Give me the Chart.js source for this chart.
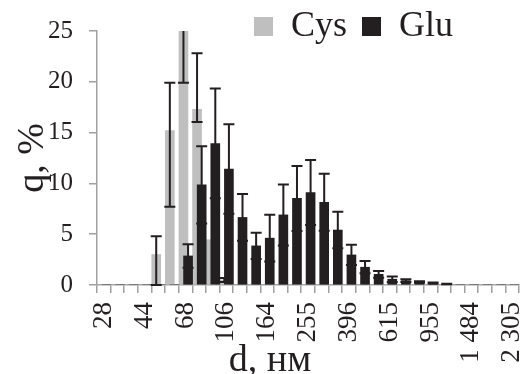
<!DOCTYPE html>
<html>
<head>
<meta charset="utf-8">
<script src="https://cdn.jsdelivr.net/npm/chart.js@4/dist/chart.umd.min.js"></script>
<style>
  html, body { margin: 0; padding: 0; background: #fff; }
  canvas { display: block; }
</style>
</head>
<body>
<canvas id="chart" width="523" height="374"></canvas>
<script>
// size bins, nm (only every third one is labelled on the axis)
const sizeLabels = ['28', '32', '38', '44', '51', '59', '68', '79', '91', '106', '123', '142', '164', '190', '221',
  '255', '295', '342', '396', '459', '532', '615', '713', '826', '955', '1 107', '1 282', '1 484', '1 720', '1 993', '2 305'];

const cysValues   = [0, 0, 0, 0, 3.0, 15.2, 25.4, 17.3, 4.45, 0.5, 0, 0, 0, 0, 0, 0, 0, 0, 0, 0, 0, 0, 0, 0, 0, 0, 0, 0, 0, 0, 0];
const cysErrPlus  = [0, 0, 0, 0, 1.8, 4.7, 5.0, 5.5, 0, 0.2, 0, 0, 0, 0, 0, 0, 0, 0, 0, 0, 0, 0, 0, 0, 0, 0, 0, 0, 0, 0, 0];
const cysErrMinus = [0, 0, 0, 0, 3.0, 7.5, 5.5, 1.25, 0, 0.2, 0, 0, 0, 0, 0, 0, 0, 0, 0, 0, 0, 0, 0, 0, 0, 0, 0, 0, 0, 0, 0];

const gluValues = [0, 0, 0, 0, 0, 0, 2.86, 9.86, 13.93, 11.42, 6.65, 3.85, 4.61, 6.9, 8.52, 9.1, 8.14, 5.41, 2.96,
  1.75, 1.05, 0.57, 0.43, 0.29, 0.19, 0.1, 0, 0, 0, 0, 0];
const gluErr = [0, 0, 0, 0, 0, 0, 1.15, 3.8, 5.4, 4.4, 2.3, 1.3, 2.3, 3.0, 3.2, 3.2, 2.8, 1.8, 1.0,
  0.6, 0.33, 0.27, 0.14, 0.08, 0.05, 0.03, 0, 0, 0, 0, 0];

const yTicks = [0, 5, 10, 15, 20, 25];
const xTitleText = 'd, нм';
const yTitleText = 'q, %';

const serif = '"Liberation Serif", "Times New Roman", serif';
const textColor = '#231f20';
const axisGray = '#a0a0a0';

// the two series overlap a little inside each bin, like the excel original
const cysShift = -0.15;
const gluShift = 0.19;

const errorBars = {
  id: 'errorBars',
  afterDatasetDraw(chart, args) {
    const ds = chart.data.datasets[args.index];
    const y = chart.scales.y;
    const area = chart.chartArea;
    const ctx = chart.ctx;
    ctx.save();
    ctx.beginPath();
    ctx.rect(area.left, area.top, area.right - area.left, area.bottom - area.top + 1);
    ctx.clip();
    ctx.strokeStyle = textColor;
    ctx.lineWidth = 2;
    args.meta.data.forEach((bar, i) => {
      const up = ds.errPlus[i];
      const down = ds.errMinus[i];
      if (!up && !down) return;
      const v = ds.data[i].y;
      const yTop = y.getPixelForValue(v + up);
      const yBot = y.getPixelForValue(Math.max(v - down, 0));
      ctx.beginPath();
      ctx.moveTo(bar.x, yTop);
      ctx.lineTo(bar.x, yBot);
      ctx.moveTo(bar.x - 5.5, yTop);
      ctx.lineTo(bar.x + 5.5, yTop);
      ctx.moveTo(bar.x - 5.5, yBot);
      ctx.lineTo(bar.x + 5.5, yBot);
      ctx.stroke();
    });
    ctx.restore();
  }
};

// legend sits over the top of the plot, not above it
const legendSpot = {
  id: 'legendSpot',
  afterLayout(chart) {
    const lg = chart.legend;
    lg.left = 239;
    lg.right = chart.width;
    lg.top = -6.5;
    lg.bottom = 60;
    lg.width = lg.right - lg.left;
    lg.height = lg.bottom - lg.top;
  }
};

const xTitle = {
  id: 'xTitle',
  afterDraw(chart) {
    const { ctx, chartArea } = chart;
    ctx.save();
    ctx.font = '38px ' + serif;
    ctx.fillStyle = textColor;
    ctx.textAlign = 'center';
    ctx.textBaseline = 'alphabetic';
    ctx.fillText(xTitleText, chartArea.left + 0.41 * (chartArea.right - chartArea.left), chart.height - 3);
    ctx.restore();
  }
};

new Chart(document.getElementById('chart'), {
  type: 'bar',
  data: {
    labels: sizeLabels,
    datasets: [
      {
        label: 'Cys',
        data: cysValues.map((v, i) => ({ x: i + cysShift, y: v })),
        errPlus: cysErrPlus,
        errMinus: cysErrMinus,
        backgroundColor: '#bfbfbf',
        order: 1
      },
      {
        label: 'Glu',
        data: gluValues.map((v, i) => ({ x: i + gluShift, y: v })),
        errPlus: gluErr,
        errMinus: gluErr,
        backgroundColor: '#231f20',
        order: 0
      }
    ]
  },
  options: {
    responsive: false,
    animation: false,
    devicePixelRatio: 1,
    events: [],
    layout: { padding: { left: 0, right: 4, top: 0, bottom: 0 } },
    datasets: {
      bar: { xAxisID: 'x', grouped: false, barThickness: 9, borderWidth: 0, clip: 0 }
    },
    plugins: {
      tooltip: { enabled: false },
      legend: {
        position: 'top',
        align: 'start',
        maxHeight: 23,
        labels: {
          boxWidth: 19,
          boxHeight: 19,
          padding: 15,
          color: textColor,
          font: { family: serif, size: 36 },
          sort: (a, b) => a.datasetIndex - b.datasetIndex
        }
      }
    },
    scales: {
      x: {
        type: 'linear',
        display: false,
        offset: false,
        min: -0.5,
        max: sizeLabels.length - 0.5
      },
      xl: {
        type: 'category',
        position: 'bottom',
        offset: true,
        min: sizeLabels[0],
        max: sizeLabels[sizeLabels.length - 1],
        grid: { offset: true, drawOnChartArea: false, tickLength: 8, color: axisGray, lineWidth: 1.5 },
        border: { color: axisGray, width: 1.5 },
        ticks: {
          autoSkip: false,
          minRotation: 90,
          maxRotation: 90,
          padding: 9,
          color: textColor,
          font: { family: serif, size: 27 },
          callback(value, index) {
            return index % 3 === 0 ? this.getLabelForValue(value) : '';
          }
        },
        afterFit(scale) {
          scale.height = 89;
          scale.paddingLeft = 0;
          scale.paddingRight = 0;
        }
      },
      y: {
        min: yTicks[0],
        max: yTicks[yTicks.length - 1],
        afterBuildTicks(scale) {
          scale.ticks = yTicks.map(v => ({ value: v }));
        },
        grid: { drawOnChartArea: false, tickLength: 8, color: axisGray, lineWidth: 1.5 },
        border: { color: axisGray, width: 1.5 },
        ticks: { padding: 16, color: textColor, font: { family: serif, size: 25 } },
        title: {
          display: true,
          text: yTitleText,
          color: textColor,
          font: { family: serif, size: 38 },
          padding: { top: 10, bottom: 0 }
        },
        afterFit(scale) {
          scale.width = 97;
        }
      }
    }
  },
  plugins: [errorBars, legendSpot, xTitle]
});
</script>
</body>
</html>
